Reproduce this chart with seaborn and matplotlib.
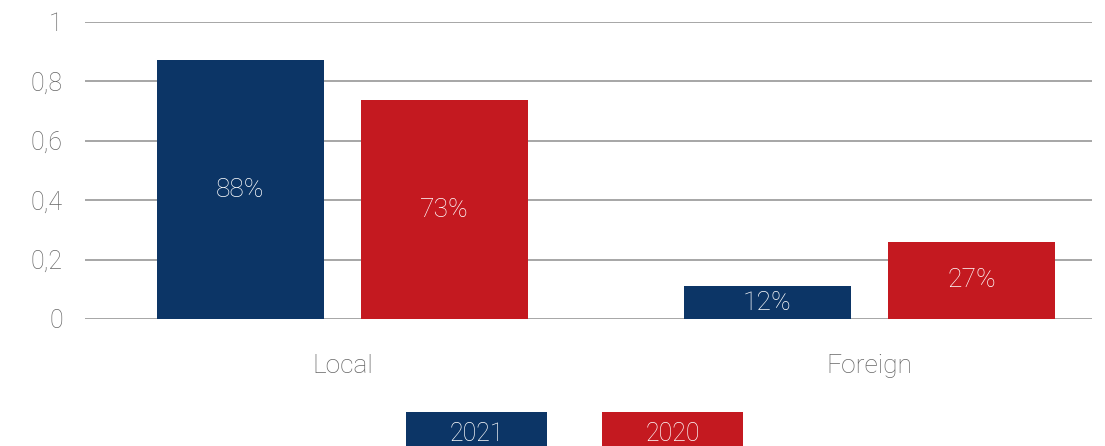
import matplotlib
matplotlib.use("Agg")
import matplotlib.pyplot as plt
import seaborn as sns
import pandas as pd
from matplotlib.patches import Rectangle
from matplotlib.ticker import FuncFormatter

categories = ["Local", "Foreign"]
years = ["2021", "2020"]
values_2021 = [0.87, 0.11]
values_2020 = [0.735, 0.26]
labels_2021 = ["88%", "12%"]
labels_2020 = ["73%", "27%"]
yticks = [0, 0.2, 0.4, 0.6, 0.8, 1.0]

NAVY = "#0C3566"
RED = "#C41920"
GRAY_TXT = "#666666"

df = pd.DataFrame({
    "category": categories * 2,
    "year": [years[0]] * 2 + [years[1]] * 2,
    "value": values_2021 + values_2020,
})

sns.set_theme(style="white")
plt.rcParams["font.family"] = ["Roboto", "DejaVu Sans"]

W, H = 1105, 446
fig = plt.figure(figsize=(W / 100, H / 100), dpi=100)
ax = fig.add_axes([85 / W, 1 - 319 / H, (1092 - 85) / W, (319 - 21.5) / H])

sns.barplot(data=df, x="category", y="value", hue="year", hue_order=years,
            order=categories, palette=[NAVY, RED], width=0.776, gap=0.183,
            saturation=1, legend=False, ax=ax, zorder=3,
            edgecolor="none", linewidth=0)

for cont, labs in zip(ax.containers, [labels_2021, labels_2020]):
    ax.bar_label(cont, labels=labs, label_type="center", color="white",
                 fontsize=19, fontweight="light")

ax.set_ylim(0, 1)
ax.set_xlim(-0.4886, 1.4222)
ax.set_yticks(yticks)
ax.yaxis.set_major_formatter(FuncFormatter(lambda v, p: ("%g" % round(v, 1)).replace(".", ",")))
ax.grid(axis="y", color="#A6A6A6", linewidth=1.4, zorder=0)
ax.set_axisbelow(True)
for s in ax.spines.values():
    s.set_visible(False)
ax.tick_params(axis="y", length=0, pad=16, labelsize=18, labelcolor=GRAY_TXT)
ax.tick_params(axis="x", length=0, pad=25, labelsize=19, labelcolor=GRAY_TXT)
for t in ax.get_xticklabels() + ax.get_yticklabels():
    t.set_fontweight("light")
ax.set_xlabel("")
ax.set_ylabel("")

# legend boxes
for x0, col, lab in [(406, NAVY, years[0]), (602, RED, years[1])]:
    fig.add_artist(Rectangle((x0 / W, 0), 141 / W, (446 - 412) / H,
                             transform=fig.transFigure, facecolor=col,
                             edgecolor="none"))
    fig.text((x0 + 70.5) / W, 1 - 434 / H, lab, color="white", fontsize=18,
             fontweight="light", ha="center", va="center")

fig.savefig("out.png", dpi=100)
